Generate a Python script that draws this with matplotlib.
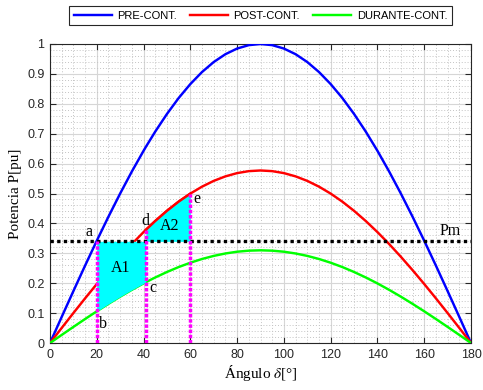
import matplotlib
matplotlib.use("Agg")
import matplotlib.pyplot as plt
import numpy as np
from matplotlib.ticker import MultipleLocator

# Rotor angle samples [deg]
delta = [0, 5, 10, 15, 20, 25, 30, 35, 40, 41, 45, 50, 55, 60, 65, 70, 75, 80, 85, 90,
         95, 100, 105, 110, 115, 120, 125, 130, 135, 140, 145, 150, 155, 160, 165, 170, 175, 180]

# Electrical power [pu] for each network condition
p_pre = [0.0, 0.0872, 0.1736, 0.2588, 0.3420, 0.4226, 0.5000, 0.5736, 0.6428, 0.6561,
         0.7071, 0.7660, 0.8192, 0.8660, 0.9063, 0.9397, 0.9659, 0.9848, 0.9962, 1.0,
         0.9962, 0.9848, 0.9659, 0.9397, 0.9063, 0.8660, 0.8192, 0.7660, 0.7071, 0.6428,
         0.5736, 0.5000, 0.4226, 0.3420, 0.2588, 0.1736, 0.0872, 0.0]
p_post = [0.0, 0.0503, 0.1002, 0.1493, 0.1973, 0.2438, 0.2885, 0.3310, 0.3709, 0.3786,
          0.4080, 0.4420, 0.4727, 0.4997, 0.5229, 0.5422, 0.5573, 0.5682, 0.5748, 0.5770,
          0.5748, 0.5682, 0.5573, 0.5422, 0.5229, 0.4997, 0.4727, 0.4420, 0.4080, 0.3709,
          0.3310, 0.2885, 0.2438, 0.1973, 0.1493, 0.1002, 0.0503, 0.0]
p_during = [0.0, 0.0270, 0.0538, 0.0802, 0.1060, 0.1310, 0.1550, 0.1778, 0.1993, 0.2034,
            0.2192, 0.2375, 0.2540, 0.2685, 0.2810, 0.2913, 0.2994, 0.3053, 0.3088, 0.3100,
            0.3088, 0.3053, 0.2994, 0.2913, 0.2810, 0.2685, 0.2540, 0.2375, 0.2192, 0.1993,
            0.1778, 0.1550, 0.1310, 0.1060, 0.0802, 0.0538, 0.0270, 0.0]

pm = 0.34          # mechanical power [pu]
delta_0 = 20       # initial angle
delta_c = 41       # clearing angle
delta_m = 60       # maximum swing angle

series_labels = ["PRE-CONT.", "POST-CONT.", "DURANTE-CONT."]
point_labels = ["a", "b", "c", "d", "e"]
area_labels = ["A1", "A2"]

plt.rcParams["font.family"] = ["Liberation Sans", "DejaVu Sans"]
plt.rcParams["mathtext.fontset"] = "stix"
serif = ["Liberation Serif", "DejaVu Serif"]

d = np.array(delta, dtype=float)
pre = np.array(p_pre)
post = np.array(p_post)
dur = np.array(p_during)

fig = plt.figure(figsize=(4.83, 3.90), dpi=100)
ax = fig.add_axes([50 / 483, 1 - 343 / 390, 421 / 483, 299 / 390])

lw = 1.75
ax.plot(d, pre, color="#0000ff", lw=lw, label=series_labels[0], zorder=3)
ax.plot(d, post, color="#ff0000", lw=lw, label=series_labels[1], zorder=3)
ax.plot(d, dur, color="#00ff00", lw=lw, label=series_labels[2], zorder=3)

# Accelerating area A1: between Pm and the fault curve
m1 = (d >= delta_0) & (d <= delta_c)
ax.fill_between(d[m1], dur[m1], pm, color="#00ffff", lw=0, zorder=4)
# Decelerating area A2: between the post-fault curve and Pm
m2 = (d >= delta_c) & (d <= delta_m)
ax.fill_between(d[m2], pm, post[m2], color="#00ffff", lw=0, zorder=4)
ax.plot(d[m2], post[m2], color="#ff0000", lw=lw, zorder=4.5)

# Mechanical power line
ax.plot([0, 180], [pm, pm], color="black", ls=(0, (1, 1)), lw=2.4, zorder=5)

# Angle markers
ic = delta.index(delta_c)
im = delta.index(delta_m)
for x, top in [(delta_0, pm), (delta_c, post[ic]), (delta_m, post[im])]:
    ax.plot([x, x], [0, top], color="#ff00ff", ls=(0, (1, 0.5)), lw=2.5, zorder=6)

txt = dict(family=serif, fontsize=11.5, color="black", zorder=7)
ax.text(16.7, 0.370, point_labels[0], ha="center", va="center", **txt)
ax.text(22.8, 0.065, point_labels[1], ha="center", va="center", **txt)
ax.text(44.2, 0.185, point_labels[2], ha="center", va="center", **txt)
ax.text(40.6, 0.408, point_labels[3], ha="center", va="center", **txt)
ax.text(62.9, 0.482, point_labels[4], ha="center", va="center", **txt)
ax.text(30.0, 0.252, area_labels[0], ha="center", va="center", **txt)
ax.text(51.3, 0.390, area_labels[1], ha="center", va="center", **txt)
ax.text(171.0, 0.374, "Pm", ha="center", va="center", **txt)

ax.set_xlim(0, 180)
ax.set_ylim(0, 1)
ax.xaxis.set_major_locator(MultipleLocator(20))
ax.xaxis.set_minor_locator(MultipleLocator(5))
ax.yaxis.set_major_locator(MultipleLocator(0.1))
ax.yaxis.set_minor_locator(MultipleLocator(0.02))
ax.set_yticks(np.arange(0, 1.01, 0.1))
ax.set_yticklabels(["0", "0.1", "0.2", "0.3", "0.4", "0.5", "0.6", "0.7", "0.8", "0.9", "1"])

ax.grid(which="major", color="#d6d6d6", lw=0.8)
ax.grid(which="minor", color="#c4c4c4", lw=0.7, ls=(0, (1, 2)))
ax.set_axisbelow(True)
ax.tick_params(which="major", direction="in", length=4, width=0.8, labelsize=9,
               colors="#262626", top=True, right=True, pad=4)
ax.tick_params(which="minor", length=0)
for s in ax.spines.values():
    s.set_color("#262626")
    s.set_linewidth(0.8)

ax.set_xlabel("Ángulo $\\delta$[°]", family=serif, fontsize=11, labelpad=2)
ax.set_ylabel("Potencia P[pu]", family=serif, fontsize=11, labelpad=4)

leg = ax.legend(loc="lower center", bbox_to_anchor=(0.5, 1.062), ncol=3, fontsize=8,
                frameon=True, fancybox=False, edgecolor="#262626", framealpha=1,
                handlelength=3.4, handletextpad=0.5, columnspacing=1.2,
                borderpad=0.42, borderaxespad=0)
leg.get_frame().set_linewidth(0.8)

fig.savefig("out.png", dpi=100)
